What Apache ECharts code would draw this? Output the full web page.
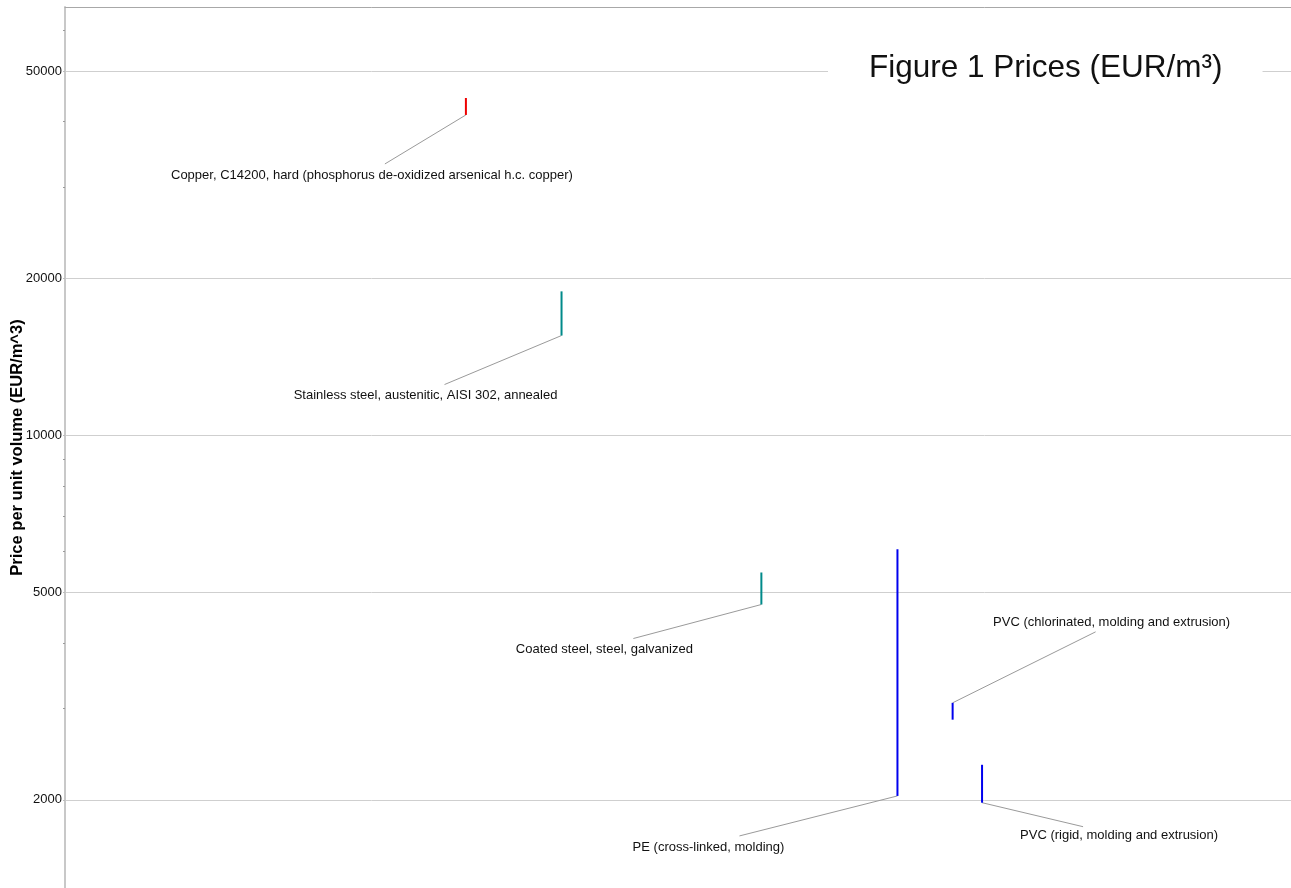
<!DOCTYPE html>
<html>
<head>
<meta charset="utf-8">
<title>Figure 1 Prices (EUR/m³)</title>
<script src="https://cdn.jsdelivr.net/npm/echarts@6/dist/echarts.min.js"></script>
<style>
  html, body { margin: 0; padding: 0; background: #ffffff; }
  #chart { width: 1291px; height: 888px; }
</style>
</head>
<body>
<div id="chart"></div>
<script>
// Material names, one price range (low..high, EUR/m^3) per material
const materials = [
  'Copper, C14200, hard (phosphorus de-oxidized arsenical h.c. copper)',
  'Stainless steel, austenitic, AISI 302, annealed',
  'Coated steel, steel, galvanized',
  'PE (cross-linked, molding)',
  'PVC (chlorinated, molding and extrusion)',
  'PVC (rigid, molding and extrusion)'
];
// horizontal placement of each range on the (hidden) x scale
const xPositions = [32.7, 40.5, 56.8, 67.9, 72.4, 74.8];
const priceLow  = [41200, 15550, 4740, 2035, 2850, 1975];
const priceHigh = [44400, 18900, 5460, 6050, 3070, 2335];

// axis ticks
const majorTicks = [2000, 5000, 10000, 20000, 50000];
const minorTicks = [3000, 4000, 6000, 7000, 8000, 9000, 30000, 40000, 60000];

// styling per material: bar colour and where its label sits
const barColors = ['#ee0000', '#008a8a', '#008a8a', '#0000ee', '#0000ee', '#0000ee'];
const labelPlacement = [
  { at: 'low',  dx: -81,  dy: 49,  tx: -13, ty: 11 },
  { at: 'low',  dx: -117, dy: 49,  tx: -19, ty: 11 },
  { at: 'low',  dx: -128, dy: 34,  tx: -29, ty: 11 },
  { at: 'low',  dx: -158, dy: 40,  tx: -31, ty: 11 },
  { at: 'high', dx: 143,  dy: -71, tx: 16,  ty: -9 },
  { at: 'low',  dx: 101,  dy: 24,  tx: 36,  ty: 9 }
];

const FONT = '"Liberation Sans", Arial, Helvetica, sans-serif';
const yMin = 1355, yMax = 66370;

const seriesData = materials.map((name, i) => ({
  name: name,
  value: [xPositions[i], priceLow[i], priceHigh[i]]
}));

function renderRange(params, api) {
  const i = params.dataIndex;
  const x = api.value(0);
  const pLo = api.coord([x, api.value(1)]);
  const pHi = api.coord([x, api.value(2)]);
  const lay = labelPlacement[i];
  const anchor = lay.at === 'high' ? pHi : pLo;
  const end = [anchor[0] + lay.dx, anchor[1] + lay.dy];
  return {
    type: 'group',
    children: [
      {
        type: 'line',
        shape: { x1: end[0], y1: end[1], x2: anchor[0], y2: anchor[1] },
        style: { stroke: '#9a9a9a', lineWidth: 1 }
      },
      {
        type: 'line',
        shape: { x1: pLo[0], y1: pLo[1], x2: pHi[0], y2: pHi[1] },
        style: { stroke: barColors[i], lineWidth: 2 }
      },
      {
        type: 'text',
        x: end[0] + lay.tx,
        y: end[1] + lay.ty,
        style: {
          text: materials[i],
          fill: '#111111',
          font: '13px ' + FONT,
          align: 'center',
          verticalAlign: 'middle'
        }
      }
    ]
  };
}

const chart = echarts.init(document.getElementById('chart'), null, { renderer: 'canvas' });

chart.setOption({
  animation: false,
  backgroundColor: '#ffffff',
  title: {
    text: 'Figure 1 Prices (EUR/m³)',
    left: 828,
    top: 41,
    padding: [12, 40, 12, 41],
    backgroundColor: '#ffffff',
    textStyle: { fontFamily: FONT, fontSize: 31.5, fontWeight: 'normal', color: '#111111', lineHeight: 31 }
  },
  grid: { left: 65, right: 0, top: 7, bottom: 0, containLabel: false, outerBoundsMode: 'none' },
  xAxis: {
    type: 'value',
    position: 'top',
    min: 0,
    max: 100,
    axisLine: { show: true, lineStyle: { color: '#a8a8a8', width: 1 } },
    axisTick: { show: false },
    axisLabel: { show: false },
    splitLine: { show: false }
  },
  yAxis: [
    {
      type: 'log',
      logBase: 10,
      min: yMin,
      max: yMax,
      name: 'Price per unit volume (EUR/m^3)',
      nameLocation: 'middle',
      nameGap: 39,
      nameMoveOverlap: false,
      nameTextStyle: { fontFamily: FONT, fontSize: 16.5, fontWeight: 'bold', color: '#000000' },
      axisLine: { show: true, lineStyle: { color: '#c8c8c8', width: 2 } },
      axisTick: { show: true, length: 2, customValues: majorTicks, lineStyle: { color: '#bbbbbb' } },
      axisLabel: {
        customValues: majorTicks,
        margin: 3,
        fontFamily: FONT,
        fontSize: 13,
        color: '#111111',
        formatter: (v) => String(Math.round(v))
      },
      splitLine: { show: true, lineStyle: { color: '#cfcfcf', width: 1 } },
      minorTick: { show: false }
    },
    {
      type: 'log',
      logBase: 10,
      min: yMin,
      max: yMax,
      position: 'left',
      axisLine: { show: false },
      axisTick: { show: true, length: 2, customValues: minorTicks, lineStyle: { color: '#9a9a9a' } },
      axisLabel: { show: false },
      splitLine: { show: false }
    }
  ],
  series: [
    {
      type: 'custom',
      name: 'Price per unit volume',
      xAxisIndex: 0,
      yAxisIndex: 0,
      renderItem: renderRange,
      encode: { x: 0, y: [1, 2] },
      data: seriesData
    }
  ]
});
</script>
</body>
</html>
